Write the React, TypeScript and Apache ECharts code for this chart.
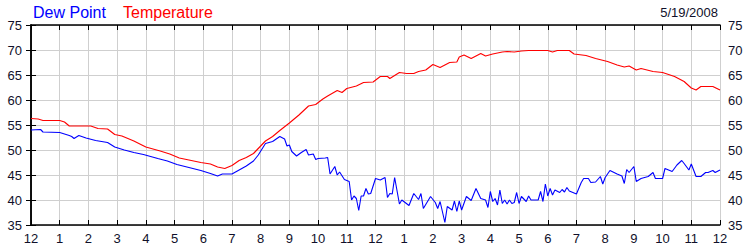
import React, { useEffect, useRef } from "react";
import * as echarts from "echarts";

// minutes after midnight and readings (°F)
const tempMinutes = [0, 15, 25, 60, 70, 80, 125, 140, 160, 175, 190, 215, 240, 270, 290, 310, 330, 355, 375, 390, 405, 420, 435, 450, 465, 480, 490, 505, 520, 540, 560, 580, 595, 610, 620, 640, 650, 660, 680, 695, 715, 730, 745, 750, 770, 785, 800, 810, 825, 840, 855, 875, 890, 895, 905, 920, 940, 950, 965, 985, 995, 1010, 1025, 1040, 1080, 1090, 1100, 1125, 1135, 1160, 1180, 1205, 1225, 1240, 1250, 1265, 1275, 1300, 1320, 1345, 1365, 1380, 1390, 1400, 1425, 1440];
const temperature = [56.3, 56.2, 55.9, 55.9, 55.6, 54.8, 54.8, 54.3, 54.2, 53.1, 52.8, 51.8, 50.6, 49.8, 49.2, 48.4, 48.0, 47.5, 47.2, 46.6, 46.3, 46.9, 47.9, 48.5, 49.3, 50.8, 51.8, 52.7, 53.9, 55.4, 57.0, 58.8, 59.1, 60.2, 60.8, 61.9, 61.5, 62.3, 62.8, 63.5, 63.6, 64.7, 64.7, 64.3, 65.5, 65.3, 65.3, 65.7, 66.0, 67.1, 66.5, 67.5, 67.6, 68.6, 69.0, 68.3, 69.3, 68.8, 69.2, 69.6, 69.7, 69.6, 69.8, 69.9, 69.9, 69.6, 69.9, 69.9, 69.2, 68.9, 68.3, 67.7, 67.0, 66.6, 66.8, 66.0, 66.3, 65.7, 65.5, 64.7, 63.7, 62.4, 62.0, 62.7, 62.7, 62.0];

const dewMinutes = [0, 20, 25, 60, 80, 85, 90, 100, 115, 135, 160, 175, 195, 215, 235, 265, 285, 305, 330, 355, 375, 390, 400, 420, 435, 450, 465, 475, 490, 505, 520, 530, 535, 540, 545, 555, 565, 575, 580, 590, 595, 600, 615, 620, 625, 635, 640, 645, 655, 665, 670, 675, 680, 685, 690, 695, 700, 705, 710, 720, 730, 740, 745, 750, 755, 760, 770, 775, 790, 800, 810, 815, 820, 835, 845, 850, 855, 865, 870, 880, 885, 890, 895, 900, 910, 920, 930, 940, 950, 955, 960, 965, 970, 975, 980, 985, 990, 995, 1000, 1005, 1010, 1015, 1020, 1025, 1030, 1035, 1040, 1045, 1060, 1065, 1070, 1075, 1080, 1085, 1090, 1095, 1105, 1110, 1115, 1120, 1125, 1140, 1150, 1155, 1165, 1170, 1180, 1190, 1195, 1200, 1210, 1225, 1235, 1240, 1245, 1250, 1260, 1265, 1275, 1290, 1300, 1305, 1320, 1325, 1340, 1350, 1360, 1365, 1375, 1380, 1390, 1400, 1410, 1415, 1425, 1430, 1440];
const dewPoint = [54.0, 54.1, 53.6, 53.5, 52.9, 52.7, 52.3, 52.9, 52.4, 51.9, 51.5, 50.6, 50.0, 49.5, 49.1, 48.3, 47.8, 47.1, 46.5, 45.9, 45.3, 44.8, 45.2, 45.2, 46.0, 46.8, 47.8, 49.0, 51.3, 51.7, 52.7, 52.2, 50.8, 51.0, 49.7, 48.8, 49.5, 50.1, 49.0, 49.2, 48.1, 48.3, 48.4, 48.5, 45.2, 46.7, 45.0, 45.6, 44.1, 43.7, 40.0, 40.8, 40.3, 37.9, 40.8, 40.8, 42.3, 41.2, 41.3, 44.3, 44.0, 44.5, 40.5, 41.3, 41.2, 44.5, 39.2, 40.0, 38.9, 41.3, 40.1, 41.3, 38.3, 40.7, 39.5, 38.3, 39.7, 35.5, 38.7, 38.0, 39.8, 37.7, 39.8, 38.0, 40.7, 39.9, 42.3, 40.3, 40.0, 38.5, 41.7, 39.7, 40.3, 39.0, 42.0, 39.3, 40.0, 39.2, 40.0, 39.3, 39.5, 41.5, 39.3, 40.7, 40.2, 39.7, 40.8, 40.0, 40.0, 41.7, 39.7, 43.2, 40.8, 42.3, 41.0, 42.0, 41.5, 42.1, 41.6, 42.5, 41.8, 41.2, 43.5, 44.3, 44.3, 43.5, 43.6, 44.7, 43.2, 44.5, 45.9, 45.2, 44.8, 43.3, 46.1, 45.5, 46.7, 43.7, 44.3, 44.7, 45.5, 44.3, 44.3, 46.3, 45.7, 47.0, 47.9, 47.3, 46.0, 47.2, 44.7, 44.7, 45.5, 45.5, 45.9, 45.5, 46.0];

const hourLabels = ["12", "1", "2", "3", "4", "5", "6", "7", "8", "9", "10", "11", "12", "1", "2", "3", "4", "5", "6", "7", "8", "9", "10", "11", "12"];
const dateLabel = "5/19/2008";
const seriesNames = ["Dew Point", "Temperature"];

const FONT = "Arial, 'Liberation Sans', sans-serif";
const TXT = "#10102a";
const BLUE = "#0000ff";
const RED = "#ff0000";

export default function App() {
  const ref = useRef<HTMLDivElement>(null);
  useEffect(() => {
    document.body.style.margin = "0";
    if (!ref.current) return;
    const chart = echarts.init(ref.current, undefined, { renderer: "svg" });
    const tempData = tempMinutes.map((m, i) => [m, temperature[i]]);
    const dewData = dewMinutes.map((m, i) => [m, dewPoint[i]]);
    const tick = { show: true, inside: true, length: 5, lineStyle: { color: "#000", width: 1 } };
    const axisLine = { show: true, lineStyle: { color: "#000", width: 1.5 } };
    const split = { show: true, lineStyle: { color: "#cfcfcf", width: 1 } };
    chart.setOption({
      animation: false,
      grid: { left: 31, right: 30, top: 25, bottom: 25, containLabel: false },
      xAxis: [
        {
          type: "value", min: 0, max: 1440, interval: 60, position: "bottom",
          axisLine, axisTick: tick, splitLine: split,
          axisLabel: {
            margin: 7, color: TXT, fontSize: 13, fontFamily: FONT, showMinLabel: true, showMaxLabel: true,
            formatter: (v: number) => hourLabels[Math.round(v / 60)] ?? "",
          },
        },
        {
          type: "value", min: 0, max: 1440, interval: 60, position: "top",
          axisLine, axisTick: tick, splitLine: { show: false }, axisLabel: { show: false },
        },
      ],
      yAxis: [
        {
          type: "value", min: 35, max: 75, interval: 5, position: "left",
          axisLine, axisTick: tick, splitLine: split,
          axisLabel: { margin: 9, color: TXT, fontSize: 13, fontFamily: FONT },
        },
        {
          type: "value", min: 35, max: 75, interval: 5, position: "right",
          axisLine, axisTick: tick, splitLine: { show: false },
          axisLabel: { margin: 8, color: TXT, fontSize: 13, fontFamily: FONT },
        },
      ],
      series: [
        {
          name: seriesNames[0], type: "line", data: dewData, showSymbol: false, symbol: "none",
          lineStyle: { color: BLUE, width: 1.1 }, itemStyle: { color: BLUE }, z: 3,
        },
        {
          name: seriesNames[1], type: "line", data: tempData, showSymbol: false, symbol: "none",
          lineStyle: { color: RED, width: 1.1 }, itemStyle: { color: RED }, z: 2,
        },
      ],
      graphic: [
        { type: "text", x: 33, y: 12, style: { text: seriesNames[0], fill: BLUE, font: `16px ${FONT}`, textAlign: "left", textVerticalAlign: "middle" } },
        { type: "text", x: 123, y: 12, style: { text: seriesNames[1], fill: RED, font: `16px ${FONT}`, textAlign: "left", textVerticalAlign: "middle" } },
        { type: "text", x: 718, y: 12, style: { text: dateLabel, fill: TXT, font: `13px ${FONT}`, textAlign: "right", textVerticalAlign: "middle" } },
      ],
    });
    return () => chart.dispose();
  }, []);
  return <div ref={ref} style={{ width: 750, height: 250 }} />;
}
